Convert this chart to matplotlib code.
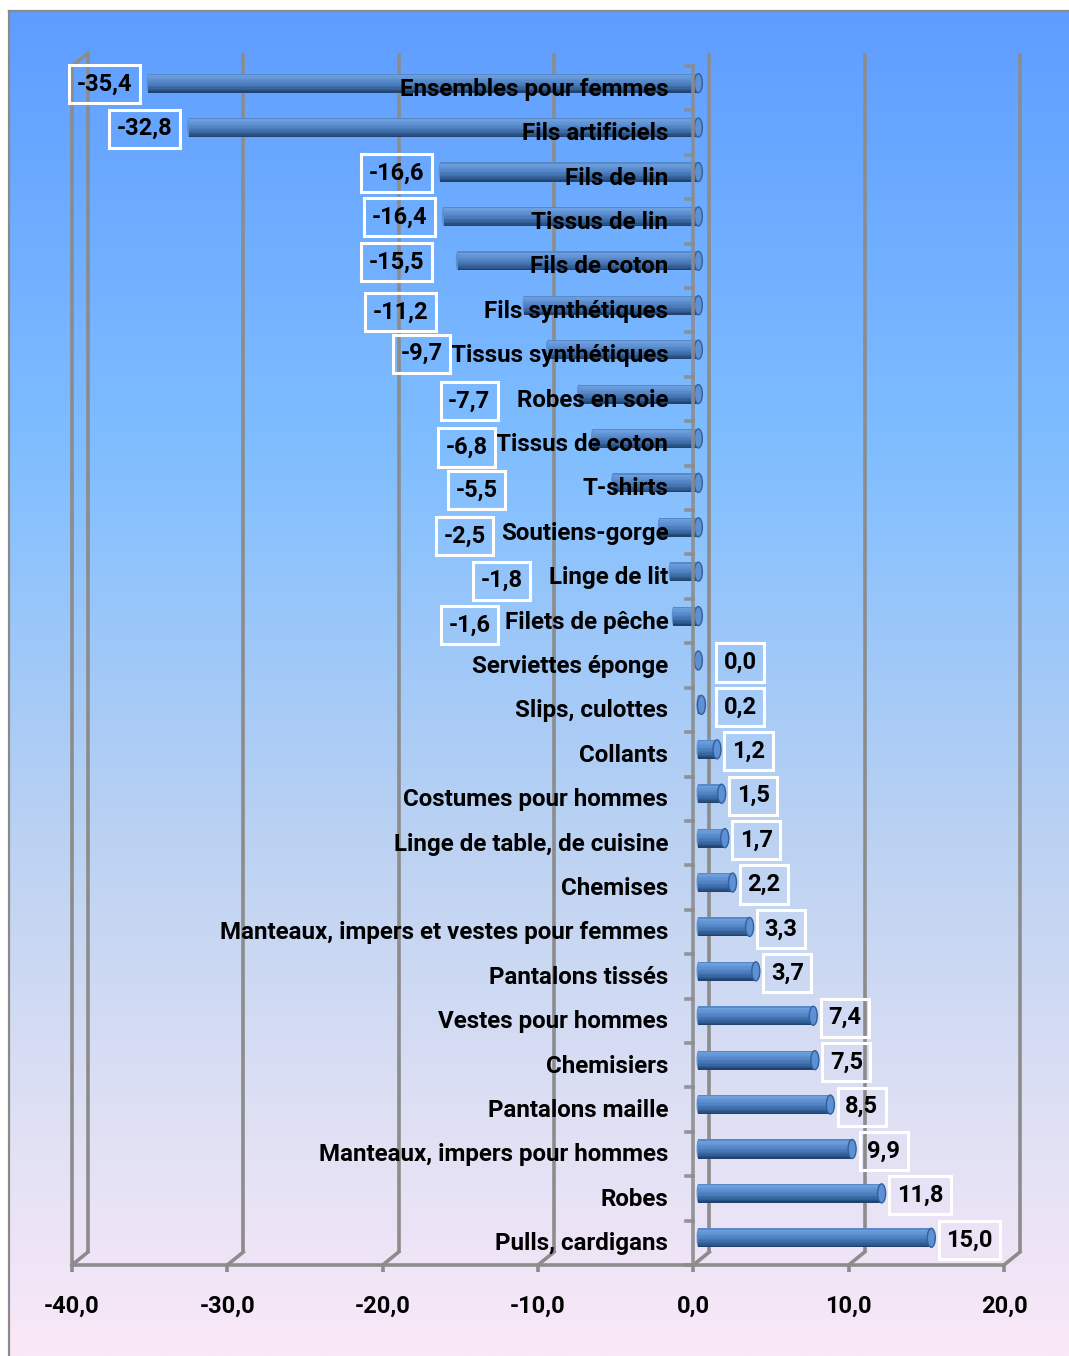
import numpy as np
import matplotlib
matplotlib.use("Agg")
import matplotlib.pyplot as plt
from matplotlib.patches import Ellipse
from matplotlib.lines import Line2D
from matplotlib.colors import to_rgb

categories = [
    "Ensembles pour femmes", "Fils artificiels", "Fils de lin", "Tissus de lin",
    "Fils de coton", "Fils synthétiques", "Tissus synthétiques", "Robes en soie",
    "Tissus de coton", "T-shirts", "Soutiens-gorge", "Linge de lit",
    "Filets de pêche", "Serviettes éponge", "Slips, culottes", "Collants",
    "Costumes pour hommes", "Linge de table, de cuisine", "Chemises",
    "Manteaux, impers et vestes pour femmes", "Pantalons tissés",
    "Vestes pour hommes", "Chemisiers", "Pantalons maille",
    "Manteaux, impers pour hommes", "Robes", "Pulls, cardigans",
]
values = [-35.4, -32.8, -16.6, -16.4, -15.5, -11.2, -9.7, -7.7, -6.8, -5.5,
          -2.5, -1.8, -1.6, 0.0, 0.2, 1.2, 1.5, 1.7, 2.2, 3.3, 3.7, 7.4, 7.5,
          8.5, 9.9, 11.8, 15.0]
value_labels = [f"{v:.1f}".replace(".", ",") for v in values]
xticks = [-40, -30, -20, -10, 0, 10, 20]
xtick_labels = ["-40,0", "-30,0", "-20,0", "-10,0", "0,0", "10,0", "20,0"]

# layout of the (collision-avoided) negative data labels, in pixels
neg_label_cx_px = [104, 144, 396, 399, 396, 400, 421, 469, 466, 476, 464, 501, 469]
neg_label_dy_px = [-4, -4, -4, -4, -4, 2, -1, 2, 4, 2, 4, 4, 4]

W, H = 1069, 1356
DPI = 100
FONT = "Roboto"
FS = 17
FS_CAT = 17.4

fig = plt.figure(figsize=(W / DPI, H / DPI), dpi=DPI)
fig.patch.set_facecolor("white")

# background gradient
bg = fig.add_axes([9 / W, 0, 1 - 9 / W, (H - 11) / H])
bg.set_axis_off()
stops = [(0.0, (94, 157, 255)), (0.33, (128, 190, 255)), (0.62, (188, 210, 242)),
         (0.82, (222, 224, 244)), (1.0, (250, 232, 248))]
n = 512
tt = np.linspace(0, 1, n)
grad = np.zeros((n, 1, 3))
for c in range(3):
    grad[:, 0, c] = np.interp(tt, [s[0] for s in stops], [s[1][c] / 255 for s in stops])
bg.imshow(grad, aspect="auto", extent=[0, 1, 0, 1], origin="upper")
bg.set_xlim(0, 1)
bg.set_ylim(0, 1)

# frame
fig.add_artist(Line2D([8.5 / W, 8.5 / W], [0, (H - 10.5) / H], color="#8a8a8a", lw=1.6))
fig.add_artist(Line2D([8.5 / W, 1], [(H - 10.5) / H, (H - 10.5) / H], color="#8a8a8a", lw=1.6))

# main axes: front plane
x0, x1 = 72, 1004
ytop, ybot = 66, 1265
ax = fig.add_axes([x0 / W, (H - ybot) / H, (x1 - x0) / W, (ybot - ytop) / H])
ax.set_xlim(-40, 20)
N = len(categories)
ax.set_ylim(N - 0.5, -0.5)
ax.patch.set_alpha(0)
for s in ax.spines.values():
    s.set_visible(False)

pxx = (x1 - x0) / 60.0
pxy = (ybot - ytop) / N
DX = 16 / pxx
DY = 13 / pxy
GC = "#8c8c8c"
LW = 2.6

# back wall gridlines and floor
for v in xticks:
    ax.plot([v + DX, v + DX], [N - 0.5 - DY, -0.5 - DY], color=GC, lw=LW, clip_on=False, zorder=1,
            solid_capstyle="butt")
    ax.plot([v, v + DX], [N - 0.5, N - 0.5 - DY], color=GC, lw=LW, clip_on=False, zorder=1)
ax.plot([-40, 20], [N - 0.5, N - 0.5], color=GC, lw=LW, clip_on=False, zorder=1)
ax.plot([-40, -40], [N - 0.5, -0.5], color=GC, lw=LW, clip_on=False, zorder=1)
ax.plot([-40, -40 + DX], [-0.5, -0.5 - DY], color=GC, lw=LW, clip_on=False, zorder=1)

# bars (cylinders)
BDX = 5 / pxx
BDY = 5 / pxy
BH = 19 / pxy
prof_t = [0.0, 0.1, 0.3, 0.55, 0.8, 1.0]
prof_c = ["#4a7bbb", "#6e9fdc", "#5f92d4", "#4b7cbb", "#33609a", "#1f3d66"]
prof_rgb = np.array([to_rgb(c) for c in prof_c])
NS = 14
ypos = np.arange(N)
for i, v in enumerate(values):
    left = min(0.0, v) + BDX
    width = abs(v)
    yc = ypos[i] - BDY
    if width > 0:
        for k in range(NS):
            t = (k + 0.5) / NS
            col = [np.interp(t, prof_t, prof_rgb[:, c]) for c in range(3)]
            ax.barh(yc - BH / 2 + (k + 0.5) * BH / NS, width, height=BH / NS * 1.05, left=left,
                    color=col, edgecolor="none", zorder=3)
        ax.add_patch(Ellipse((left, yc), 3.5 / pxx, BH, facecolor="#5b8ed2", edgecolor="none", zorder=2.9))
    ax.add_patch(Ellipse((max(0.0, v) + BDX, yc), 8 / pxx, BH, facecolor="#5d90d4",
                         edgecolor="#33609a", lw=1.0, zorder=4))

# front y-axis line at 0 with ticks at category boundaries
ax.plot([0, 0], [N - 0.5, -0.5], color=GC, lw=LW, clip_on=False, zorder=5, alpha=0.9)
for b in np.arange(-0.5, N, 1.0):
    ax.plot([-7 / pxx, 0], [b, b], color=GC, lw=LW, clip_on=False, zorder=5, alpha=0.9)

# category labels
for i, c in enumerate(categories):
    ax.text(-25 / pxx, ypos[i] + 1 / pxy, c, ha="right", va="center", fontsize=FS_CAT,
            fontweight="bold", family=FONT, color="black", zorder=6)

# value labels
PX2PT = 72 / DPI
bbox = dict(boxstyle="square,pad=0.32", facecolor="none", edgecolor="white", lw=2.2)
for i, (v, lab) in enumerate(zip(values, value_labels)):
    if v < 0:
        cx = (neg_label_cx_px[i] - 693) / pxx
        ax.annotate(lab, (cx, ypos[i]), xytext=(0, -neg_label_dy_px[i] * PX2PT),
                    textcoords="offset points", ha="center", va="center", fontsize=FS,
                    fontweight="bold", family=FONT, bbox=bbox, zorder=7, annotation_clip=False)
    else:
        ax.annotate(lab, (max(v, 0.65), ypos[i]), xytext=(20 * PX2PT, 3 * PX2PT),
                    textcoords="offset points", ha="left", va="center", fontsize=FS,
                    fontweight="bold", family=FONT, bbox=bbox, zorder=7, annotation_clip=False)

# x ticks
ax.set_xticks(xticks)
ax.set_xticklabels(xtick_labels, fontsize=FS, fontweight="bold", family=FONT)
ax.tick_params(axis="x", length=7 * PX2PT, width=LW, color=GC, pad=23 * PX2PT)
ax.set_yticks([])

fig.savefig("out.png", dpi=DPI, facecolor=fig.get_facecolor())
